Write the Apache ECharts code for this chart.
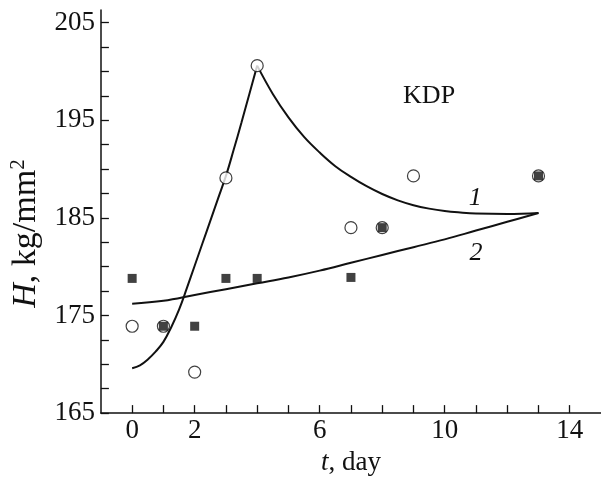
<!DOCTYPE html>
<html><head><meta charset="utf-8">
<script src="https://cdn.jsdelivr.net/npm/echarts@6/dist/echarts.min.js"></script>
<style>html,body{margin:0;padding:0;background:#fff}#c{width:601px;height:481px}</style>
</head><body><div id="c"></div>
<script>
// open circles: [t, H]
const circlePts = [[0,173.9],[1,173.9],[2,169.2],[3,189.1],[4,200.6],[7,184.0],[8,184.0],[9,189.3],[13,189.3]];
// filled squares: [t, H]
const squarePts = [[0,178.8],[1,173.9],[2,173.9],[3,178.8],[4,178.8],[7,178.9],[8,184.0],[13,189.3]];
// curve 1 (rising then decaying)
const curve1Rise = [[0,169.6],[0.25,169.9],[0.5,170.5],[0.75,171.3],[1,172.3],[1.25,173.8],[1.5,175.6],[1.75,177.8],[2,180.1],[2.25,182.4],[2.5,184.7],[2.75,187.0],[3,189.3],[3.25,192.0],[3.5,194.8],[3.75,197.7],[4,200.6]];
const curve1Decay = [[4,200.6],[4.5,197.7],[5,195.3],[5.5,193.3],[6,191.7],[6.5,190.3],[7,189.2],[7.5,188.25],[8,187.45],[8.5,186.8],[9,186.3],[9.5,185.95],[10,185.7],[10.5,185.55],[11,185.45],[12,185.4],[13,185.5]];
// curve 2
const curve2 = [[0,176.2],[1,176.5],[2,177.1],[3,177.7],[4,178.3],[5,178.9],[6,179.6],[7,180.4],[8,181.2],[9,182.0],[10,182.8],[11,183.7],[12,184.6],[13,185.5]];
// tick labels
const xLabels = [0,2,6,10,14];
const xTicks = [0,1,2,3,4,5,6,7,8,9,10,11,12,13,14];
const yLabels = [165,175,185,195,205];
const yTicks = [165,167.5,170,172.5,175,177.5,180,182.5,185,187.5,190,192.5,195,197.5,200,202.5,205];
// annotations
const noteText = ['KDP','1','2'];
const notePos = [[9.5,197.5],[10.98,187.0],[11.0,181.4]];
const noteItalic = [false,true,true];

const FONT = 'Liberation Serif';
const INK = '#111';
const chart = echarts.init(document.getElementById('c'), null, {renderer:'canvas'});
const lineStyle = {color:INK, width:2};
chart.setOption({
  animation:false,
  backgroundColor:'#fff',
  grid:{left:98, right:0, top:10, bottom:64},
  xAxis:{
    type:'value', min:-1, max:15,
    name:'{i|t}, day', nameLocation:'middle', nameGap:25,
    nameTextStyle:{fontFamily:FONT, fontSize:27, color:INK, rich:{i:{fontFamily:FONT, fontSize:27, fontStyle:'italic', color:INK}}},
    axisLine:{show:true, onZero:false, lineStyle:{color:INK, width:1.5}},
    axisTick:{show:true, inside:true, length:8, customValues:xTicks, lineStyle:{color:INK, width:1.3}},
    axisLabel:{customValues:xLabels, fontFamily:FONT, fontSize:27, color:INK, margin:4},
    splitLine:{show:false}
  },
  yAxis:{
    type:'value', min:165, max:206.3,
    name:'{i|H}, kg/mm{s|2}', nameLocation:'middle', nameGap:30,
    nameTextStyle:{fontFamily:FONT, fontSize:34, color:INK, padding:[0,44,0,0],
      rich:{i:{fontFamily:FONT, fontSize:34, fontStyle:'italic', color:INK}, s:{fontFamily:FONT, fontSize:21, color:INK, verticalAlign:'top', padding:[0,0,16,0]}}},
    axisLine:{show:true, onZero:false, lineStyle:{color:INK, width:1.5}},
    axisTick:{show:true, inside:true, length:8, customValues:yTicks, lineStyle:{color:INK, width:1.3}},
    axisLabel:{customValues:yLabels, fontFamily:FONT, fontSize:27, color:INK, margin:6},
    splitLine:{show:false}
  },
  series:[
    {type:'line', data:curve1Rise, smooth:0.4, symbol:'none', lineStyle:lineStyle, z:2},
    {type:'line', data:curve1Decay, smooth:0.4, symbol:'none', lineStyle:lineStyle, z:2},
    {type:'line', data:curve2, smooth:0.4, symbol:'none', lineStyle:lineStyle, z:2},
    {type:'scatter', data:circlePts, symbol:'circle', symbolSize:12, itemStyle:{color:'#fff', borderColor:INK, borderWidth:1.2}, z:3},
    {type:'scatter', data:squarePts, symbol:'rect', symbolSize:9, itemStyle:{color:INK}, z:4},
    {type:'custom', silent:true, z:5, data:notePos,
      renderItem:function(params, api){
        const i = params.dataIndex;
        const p = api.coord([api.value(0), api.value(1)]);
        return {type:'text', x:p[0], y:p[1], style:{text:noteText[i], fill:INK, align:'center', verticalAlign:'middle',
          font:(noteItalic[i]?'italic ':'')+'26px "Liberation Serif"'}};
      }}
  ]
});
</script></body></html>
